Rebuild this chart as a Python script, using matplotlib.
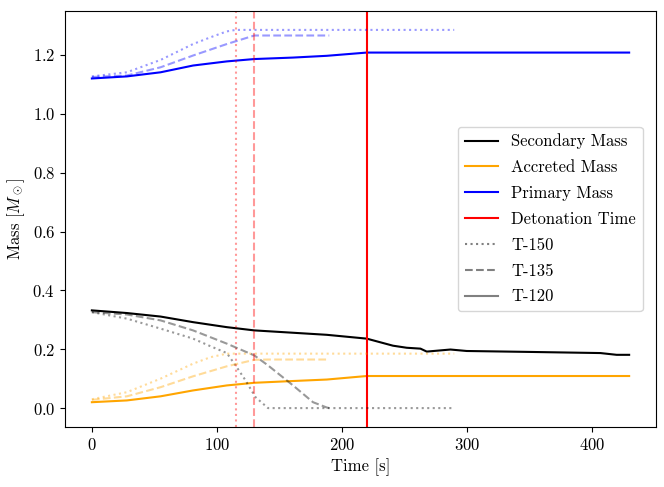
import numpy as np
import matplotlib
matplotlib.use("Agg")
import matplotlib.pyplot as plt

plt.rcParams['font.family'] = 'serif'
plt.rcParams['font.serif'] = ['cmr10']
plt.rcParams['mathtext.fontset'] = 'cm'
plt.rcParams['axes.formatter.use_mathtext'] = True
plt.rcParams['font.size'] = 12

# T-120 (main run)
t_main = [0, 28, 55, 81, 108, 130, 161, 188, 220, 241, 252, 263, 268, 287, 300, 348, 407, 420, 430]
secondary = [0.332, 0.323, 0.311, 0.292, 0.275, 0.264, 0.256, 0.249, 0.236, 0.212, 0.205, 0.202,
             0.192, 0.199, 0.194, 0.191, 0.187, 0.181, 0.181]
t_acc = [0, 28, 55, 81, 108, 130, 161, 188, 220, 430]
accreted = [0.020, 0.026, 0.040, 0.060, 0.077, 0.086, 0.092, 0.097, 0.109, 0.109]
primary = [1.120, 1.127, 1.141, 1.164, 1.178, 1.186, 1.191, 1.197, 1.208, 1.208]

# T-150
t_150 = [0, 28, 55, 81, 95, 108, 115, 123, 131, 141, 290]
sec_150 = [0.326, 0.304, 0.270, 0.236, 0.210, 0.187, 0.145, 0.094, 0.037, 0.0, 0.0]
acc_150 = [0.030, 0.054, 0.100, 0.151, 0.173, 0.185, 0.185, 0.185, 0.185, 0.185, 0.185]
pri_150 = [1.127, 1.141, 1.183, 1.237, 1.260, 1.280, 1.285, 1.285, 1.285, 1.285, 1.285]

# T-135
t_135 = [0, 28, 55, 81, 108, 130, 141, 161, 177, 188, 190]
sec_135 = [0.326, 0.318, 0.298, 0.264, 0.219, 0.179, 0.145, 0.077, 0.020, 0.002, 0.0]
acc_135 = [0.028, 0.040, 0.071, 0.108, 0.142, 0.164, 0.165, 0.165, 0.165, 0.165, 0.165]
pri_135 = [1.125, 1.130, 1.158, 1.198, 1.237, 1.266, 1.266, 1.266, 1.266, 1.266, 1.266]

t_det = 220
t_det_150 = 115
t_det_135 = 130

fig = plt.figure(figsize=(6.64, 4.87), dpi=100)
ax = fig.add_axes([65/664, 1-427/487, 591/664, 416/487])

ax.plot(t_main, secondary, color='black', label='Secondary Mass')
ax.plot(t_acc, accreted, color='orange', label='Accreted Mass')
ax.plot(t_acc, primary, color='blue', label='Primary Mass')
ax.axvline(t_det, color='red', label='Detonation Time')

ax.plot(t_150, sec_150, color='black', ls=':', alpha=0.4)
ax.plot(t_150, acc_150, color='orange', ls=':', alpha=0.4)
ax.plot(t_150, pri_150, color='blue', ls=':', alpha=0.4)
ax.axvline(t_det_150, color='red', ls=':', alpha=0.4)

ax.plot(t_135, sec_135, color='black', ls='--', alpha=0.4)
ax.plot(t_135, acc_135, color='orange', ls='--', alpha=0.4)
ax.plot(t_135, pri_135, color='blue', ls='--', alpha=0.4)
ax.axvline(t_det_135, color='red', ls='--', alpha=0.4)

ax.plot([], [], color='grey', ls=':', label='T-150')
ax.plot([], [], color='grey', ls='--', label='T-135')
ax.plot([], [], color='grey', ls='-', label='T-120')

ax.set_xlabel('Time [s]')
ax.set_ylabel(r'Mass [$M_\odot$]')
ax.legend(loc='center right', labelspacing=0.63, borderaxespad=0.8)

fig.savefig('out.png', dpi=100)
